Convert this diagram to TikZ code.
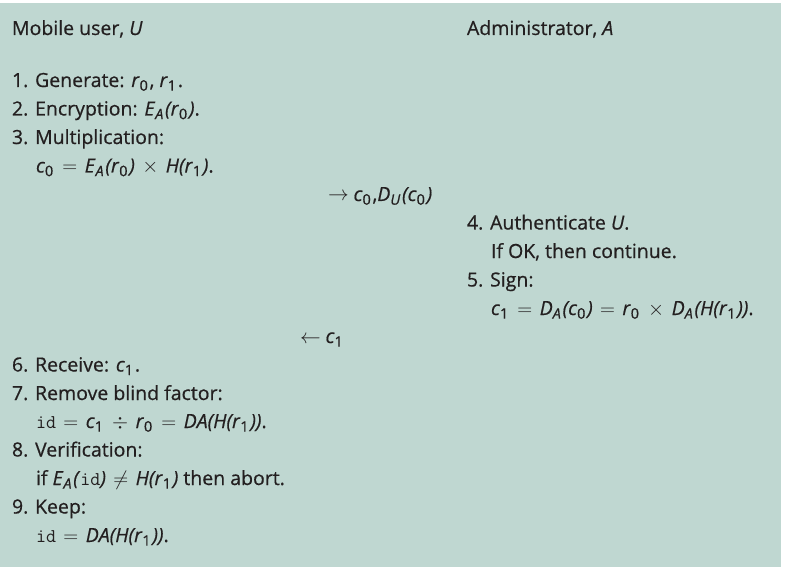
\documentclass[tikz,border=0pt]{standalone}
\usepackage{fontspec}
\setmainfont{Open Sans}[FakeBold=0.6]
\definecolor{bgc}{RGB}{191,215,209}
\definecolor{txt}{RGB}{35,31,32}
\newcommand{\sbs}[1]{\raisebox{-0.35ex}{\fontsize{14.5bp}{15bp}\selectfont #1}\hspace{0.09em}}
\newcommand{\vi}[1]{\textit{#1}}
\newcommand{\idt}{\texttt{id}}
\newcommand{\op}[1]{\hspace{0.38em}$#1$\hspace{0.38em}}
\tikzset{
  line/.style={anchor=base west, inner sep=0pt, outer sep=0pt, text=txt,
    font=\fontsize{19.5bp}{28bp}\selectfont},
}
\begin{document}
\begin{tikzpicture}[x=1bp,y=-1bp]
\useasboundingbox (0,0) rectangle (790,567);
\fill[bgc] (0,3) rectangle (781,567);
% headers
\node[line] (hu) at (12,35) {Mobile user, \vi{U}};
\node[line] (ha) at (467,35) {Administrator, \vi{A}};
% user steps 1-3
\node[line] (s1) at (12,87) {1. Generate: \vi{r}\sbs{0}, \vi{r}\sbs{1}.};
\node[line] (s2) at (12,115.5) {2. Encryption: \vi{E}\sbs{\vi{A}}\vi{(r}\sbs{0}\vi{)}.};
\node[line] (s3) at (12,144) {3. Multiplication:};
\node[line] (s3b) at (36,172.5) {\vi{c}\sbs{0}\op{=}\vi{E}\sbs{\vi{A}}\vi{(r}\sbs{0}\vi{)}\op{\times}\vi{H(r}\sbs{1}\vi{)}.};
% message 1
\node[line] (m1) at (328,201) {$\rightarrow$\hspace{0.25em}\vi{c}\sbs{0},\vi{D}\sbs{\vi{U}}\vi{(c}\sbs{0}\vi{)}};
% admin steps 4-5
\node[line] (s4) at (467,229.5) {4. Authenticate \vi{U}.};
\node[line] (s4b) at (491,258) {If OK, then continue.};
\node[line] (s5) at (467,286.5) {5. Sign:};
\node[line] (s5b) at (491,315) {\vi{c}\sbs{1}\op{=}\vi{D}\sbs{\vi{A}}\vi{(c}\sbs{0}\vi{)}\op{=}\vi{r}\sbs{0}\op{\times}\vi{D}\sbs{\vi{A}}\vi{(H(r}\sbs{1}\vi{))}.};
% message 2
\node[line] (m2) at (300,343) {$\leftarrow$\hspace{0.25em}\vi{c}\sbs{1}};
% user steps 6-9
\node[line] (s6) at (12,371.5) {6. Receive: \vi{c}\sbs{1}.};
\node[line] (s7) at (12,400) {7. Remove blind factor:};
\node[line] (s7b) at (36,428) {\idt\op{=}\vi{c}\sbs{1}\op{\div}\vi{r}\sbs{0}\op{=}\vi{DA(H(r}\sbs{1}\vi{))}.};
\node[line] (s8) at (12,456.5) {8. Verification:};
\node[line] (s8b) at (36,485) {if \vi{E}\sbs{\vi{A}}\vi{(}\idt\vi{)}\op{\neq}\vi{H(r}\sbs{1}\vi{)} then abort.};
\node[line] (s9) at (12,513.5) {9. Keep:};
\node[line] (s9b) at (36,542) {\idt\op{=}\vi{DA(H(r}\sbs{1}\vi{))}.};
\end{tikzpicture}
\end{document}
